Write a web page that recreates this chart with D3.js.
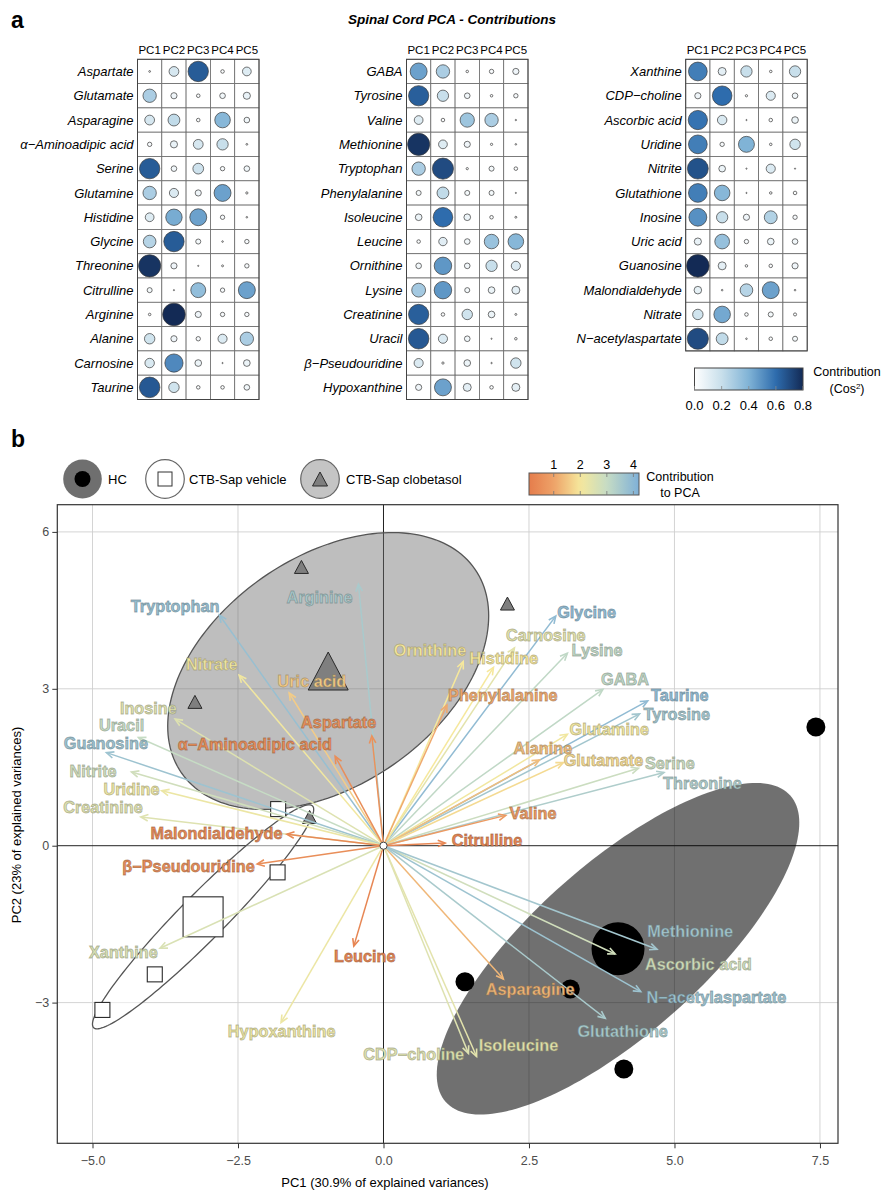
<!DOCTYPE html>
<html><head><meta charset="utf-8">
<script src="https://cdn.jsdelivr.net/npm/d3@7"></script>
<style>body{margin:0;background:#fff;} svg text{font-family:'Liberation Sans',Arial,Helvetica,sans-serif;}</style>
</head><body>
<script>
// ---------------- DATA: panel a ----------------
const pcs = ["PC1","PC2","PC3","PC4","PC5"];
const cos2Ticks = [0, 0.2, 0.4, 0.6, 0.8];
const panel1Vars = ["Aspartate","Glutamate","Asparagine","α−Aminoadipic acid","Serine","Glutamine","Histidine","Glycine","Threonine","Citrulline","Arginine","Alanine","Carnosine","Taurine"];
const panel1Cos2 = [
  [0.005,0.15,0.65,0.02,0.12],
  [0.28,0.06,0.02,0.05,0.08],
  [0.15,0.22,0.02,0.38,0.05],
  [0.03,0.08,0.15,0.20,0.005],
  [0.65,0.05,0.18,0.03,0.05],
  [0.28,0.13,0.06,0.45,0.008],
  [0.12,0.42,0.45,0.03,0.004],
  [0.25,0.65,0.04,0.004,0.03],
  [0.77,0.06,0.002,0.006,0.03],
  [0.04,0.002,0.35,0.03,0.45],
  [0.01,0.80,0.06,0.03,0.03],
  [0.17,0.06,0.03,0.13,0.28],
  [0.14,0.52,0.07,0.002,0.07],
  [0.66,0.17,0.02,0.02,0.05]
];
const panel2Vars = ["GABA","Tyrosine","Valine","Methionine","Tryptophan","Phenylalanine","Isoleucine","Leucine","Ornithine","Lysine","Creatinine","Uracil","β−Pseudouridine","Hypoxanthine"];
const panel2Cos2 = [
  [0.45,0.28,0.01,0.03,0.06],
  [0.64,0.20,0.05,0.01,0.03],
  [0.12,0.02,0.32,0.28,0.003],
  [0.77,0.12,0.06,0.008,0.004],
  [0.28,0.70,0.008,0.04,0.02],
  [0.04,0.22,0.04,0.04,0.002],
  [0.07,0.60,0.07,0.02,0.006],
  [0.02,0.11,0.05,0.33,0.38],
  [0.05,0.48,0.05,0.20,0.13],
  [0.30,0.48,0.04,0.07,0.10],
  [0.64,0.02,0.17,0.07,0.006],
  [0.66,0.13,0.05,0.002,0.01],
  [0.13,0.008,0.07,0.003,0.17],
  [0.06,0.45,0.10,0.02,0.10]
];
const panel3Vars = ["Xanthine","CDP−choline","Ascorbic acid","Uridine","Nitrite","Glutathione","Inosine","Uric acid","Guanosine","Malondialdehyde","Nitrate","N−acetylaspartate"];
const panel3Cos2 = [
  [0.55,0.10,0.20,0.01,0.20],
  [0.06,0.60,0.008,0.13,0.05],
  [0.58,0.14,0.002,0.02,0.07],
  [0.55,0.03,0.40,0.01,0.17],
  [0.68,0.07,0.002,0.13,0.001],
  [0.55,0.38,0.002,0.01,0.02],
  [0.50,0.20,0.06,0.26,0.03],
  [0.08,0.34,0.03,0.07,0.05],
  [0.80,0.10,0.01,0.02,0.06],
  [0.09,0.004,0.25,0.45,0.004],
  [0.17,0.43,0.02,0.04,0.015],
  [0.70,0.22,0.004,0.02,0.04]
];

// ---------------- DATA: panel b ----------------
const groupNames = ["HC","CTB-Sap vehicle","CTB-Sap clobetasol"];
const hcPC1 = [7.43, 1.40, 3.21, 4.13];
const hcPC2 = [2.27, -2.60, -2.74, -4.27];
const vehPC1 = [-1.81, -1.82, -3.93, -4.83];
const vehPC2 = [0.70, -0.51, -2.46, -3.14];
const clobPC1 = [-1.41, 2.13, -3.24, -1.27];
const clobPC2 = [5.33, 4.63, 2.75, 0.55];
const centroidPC1 = [4.03, -3.10, -0.95];
const centroidPC2 = [-1.97, -1.36, 3.34];
// ellipse conjugate semi-axes (data units), per group
const ellipseU = [[2.96, 2.93], [1.88, 2.12], [2.52, 1.95]];
const ellipseV = [[0.97, -1.21], [0.28, -0.30], [1.12, -1.79]];

const varNames = ["Tryptophan","Arginine","Nitrate","Uric acid","Inosine","Uracil","Guanosine","Nitrite","Uridine","Creatinine",
  "α−Aminoadipic acid","Aspartate","Malondialdehyde","β−Pseudouridine","Xanthine","Leucine","Hypoxanthine","CDP−choline","Isoleucine","Asparagine",
  "Glutathione","Ascorbic acid","Methionine","N−acetylaspartate","Glycine","Carnosine","Histidine","Ornithine","Lysine","Phenylalanine",
  "GABA","Taurine","Tyrosine","Glutamine","Alanine","Glutamate","Serine","Threonine","Valine","Citrulline"];
const varPC1 = [-2.82,-0.43,-2.48,-1.62,-3.58,-4.21,-4.76,-4.33,-3.81,-4.17,
  -0.83,-0.20,-1.66,-2.17,-3.84,-0.51,-1.76,1.46,1.60,2.06,
  3.81,3.98,4.70,4.42,2.96,2.25,1.89,1.37,3.16,1.09,
  3.77,4.54,4.40,3.16,2.68,3.09,4.38,4.82,2.10,1.06];
const varPC2 = [4.41,5.00,3.26,2.92,2.42,2.07,1.78,1.41,1.05,0.55,
  1.71,2.10,0.22,-0.35,-1.96,-1.92,-3.38,-3.97,-4.03,-2.55,
  -3.30,-2.07,-1.98,-2.79,4.39,3.78,3.41,3.52,3.68,2.69,
  2.99,2.77,2.52,2.13,1.64,1.59,1.48,1.40,0.58,0.05];
const varContrib = [3.8,3.5,2.1,1.6,2.5,3.0,3.7,2.8,2.2,2.5,
  0.5,0.6,0.4,0.5,2.6,0.3,2.2,2.5,2.4,1.3,
  3.5,2.8,3.6,3.7,3.9,2.4,2.0,2.0,3.1,1.1,
  3.1,3.9,3.6,2.1,1.4,1.8,2.9,3.4,0.8,0.3];
const labelPC1 = [-3.58,-1.10,-2.95,-1.23,-4.04,-4.50,-4.77,-4.99,-4.33,-4.82,
  -2.21,-0.77,-2.87,-3.35,-4.47,-0.32,-1.75,0.52,2.32,2.52,
  4.11,5.41,5.27,5.72,3.49,2.79,2.07,0.80,3.67,2.05,
  4.15,5.09,5.04,3.88,2.74,3.78,4.92,5.48,2.57,1.78];
const labelPC2 = [4.58,4.76,3.47,3.15,2.63,2.30,1.96,1.42,1.09,0.73,
  1.94,2.36,0.24,-0.40,-2.03,-2.12,-3.54,-3.98,-3.81,-2.74,
  -3.54,-2.26,-1.63,-2.90,4.47,4.03,3.59,3.74,3.74,2.88,
  3.19,2.88,2.51,2.23,1.86,1.64,1.57,1.20,0.62,0.11];
const xTicks = [-5, -2.5, 0, 2.5, 5, 7.5];
const yTicks = [-3, 0, 3, 6];
const contribTicks = [1, 2, 3, 4];

// ---------------- DRAW ----------------
const svg = d3.select("body").append("svg").attr("width", 885).attr("height", 1194);
svg.append("rect").attr("width",885).attr("height",1194).attr("fill","#fff");

svg.append("text").attr("x", 11).attr("y", 28).text("a").style("font-size","23px").style("font-weight","bold");
svg.append("text").attr("x", 11).attr("y", 447).text("b").style("font-size","23px").style("font-weight","bold");
svg.append("text").attr("x", 452).attr("y", 24).attr("text-anchor","middle")
  .text("Spinal Cord PCA - Contributions")
  .style("font-size","13.5px").style("font-weight","bold").style("font-style","italic")
  .style("font-family","'Liberation Sans Narrow','Liberation Sans',Arial,sans-serif");

// ---- panel a grids ----
const cosColor = d3.scaleLinear().domain(cos2Ticks).range(["#ffffff","#c8dfeb","#80b3d6","#2e6cad","#132a55"]).clamp(true);
const cell = 24.3, gridTop = 59.3;
const rScale = d3.scaleSqrt().domain([0, 0.8]).range([0, 11.3]);

function drawGrid(left, vars, vals) {
  const g = svg.append("g");
  const xb = d3.scaleBand().domain(pcs).range([left, left + cell * 5]);
  const yb = d3.scaleBand().domain(vars).range([gridTop, gridTop + cell * vars.length]);
  pcs.forEach(p => {
    g.append("text").attr("x", xb(p) + cell / 2).attr("y", gridTop - 5).attr("text-anchor","middle")
      .text(p).style("font-size","11.5px").style("font-family","'Liberation Sans Narrow','Liberation Sans',Arial,sans-serif");
  });
  vars.forEach((v, i) => {
    g.append("text").attr("x", left - 4).attr("y", yb(v) + cell / 2).attr("dy","0.35em")
      .attr("text-anchor","end").style("font-size","13px").style("font-style","italic").text(v);
    pcs.forEach((p, j) => {
      g.append("rect").attr("x", xb(p)).attr("y", yb(v)).attr("width", cell).attr("height", cell)
        .attr("fill","#fff").attr("stroke","#6a6a6a").attr("stroke-width",0.8);
    });
  });
  vars.forEach((v, i) => {
    pcs.forEach((p, j) => {
      const val = vals[i][j];
      g.append("circle").attr("cx", xb(p) + cell / 2).attr("cy", yb(v) + cell / 2)
        .attr("r", Math.max(rScale(val), 0.6)).attr("fill", cosColor(val))
        .attr("stroke","#3a3a3a").attr("stroke-width", 0.7);
    });
  });
  g.append("rect").attr("x", left).attr("y", gridTop).attr("width", cell * 5).attr("height", cell * vars.length)
    .attr("fill","none").attr("stroke","#444").attr("stroke-width",1);
}
drawGrid(137.5, panel1Vars, panel1Cos2);
drawGrid(406.5, panel2Vars, panel2Cos2);
drawGrid(685.7, panel3Vars, panel3Cos2);

// colorbar a
const defs = svg.append("defs");
const gA = defs.append("linearGradient").attr("id","gradA");
cos2Ticks.forEach(t => gA.append("stop").attr("offset", (t / 0.8 * 100) + "%").attr("stop-color", cosColor(t)));
const cbA = d3.scaleLinear().domain([0, 0.8]).range([694.5, 803]);
svg.append("rect").attr("x", cbA(0)).attr("y", 368).attr("width", cbA(0.8) - cbA(0)).attr("height", 22)
  .attr("fill","url(#gradA)").attr("stroke","#444").attr("stroke-width",1);
cos2Ticks.forEach(t => {
  svg.append("line").attr("x1", cbA(t)).attr("x2", cbA(t)).attr("y1", 386).attr("y2", 390).attr("stroke","#888").attr("stroke-width",0.8);
  svg.append("text").attr("x", cbA(t)).attr("y", 410).attr("text-anchor","middle").style("font-size","13px").text(d3.format(".1f")(t));
});
svg.append("text").attr("x", 847).attr("y", 376).attr("text-anchor","middle").style("font-size","12.5px").text("Contribution");
const cosT = svg.append("text").attr("x", 847).attr("y", 393).attr("text-anchor","middle").style("font-size","12.5px");
cosT.append("tspan").text("(Cos");
cosT.append("tspan").attr("dy",-4).style("font-size","8px").text("2");
cosT.append("tspan").attr("dy",4).text(")");

// ---- panel b ----
const x = d3.scaleLinear().domain([-5.605, 7.81]).range([57.3, 838]);
const y = d3.scaleLinear().domain([-5.69, 6.52]).range([1143.3, 504.7]);
const contribColor = d3.scaleLinear().domain([0.07, 1, 2, 3, 4.21])
  .range(["#e57d4c","#eea268","#f6e89c","#c6dcc4","#7fb0d8"]).clamp(true);

const gp = svg.append("g");
// grid
xTicks.filter(t => t !== 0).forEach(t => gp.append("line").attr("x1", x(t)).attr("x2", x(t)).attr("y1", y(6.52)).attr("y2", y(-5.69)).attr("stroke","#cfcfcf").attr("stroke-width",0.9));
yTicks.filter(t => t !== 0).forEach(t => gp.append("line").attr("y1", y(t)).attr("y2", y(t)).attr("x1", x(-5.605)).attr("x2", x(7.81)).attr("stroke","#cfcfcf").attr("stroke-width",0.9));
gp.append("line").attr("x1", x(0)).attr("x2", x(0)).attr("y1", y(6.52)).attr("y2", y(-5.69)).attr("stroke","#222").attr("stroke-width",1);
gp.append("line").attr("y1", y(0)).attr("y2", y(0)).attr("x1", x(-5.605)).attr("x2", x(7.81)).attr("stroke","#222").attr("stroke-width",1);

// ellipses
const ellFill = ["rgba(0,0,0,0.56)","rgba(255,255,255,0.5)","rgba(110,110,110,0.45)"];
const ellStroke = ["none","#555","#555"];
const line = d3.line().x(d => x(d[0])).y(d => y(d[1])).curve(d3.curveLinearClosed);
groupNames.forEach((gname, k) => {
  const pts = d3.range(0, 2 * Math.PI, Math.PI / 90).map(t => [
    centroidPC1[k] + ellipseU[k][0] * Math.cos(t) + ellipseV[k][0] * Math.sin(t),
    centroidPC2[k] + ellipseU[k][1] * Math.cos(t) + ellipseV[k][1] * Math.sin(t)
  ]);
  gp.append("path").attr("d", line(pts)).attr("fill", ellFill[k]).attr("stroke", ellStroke[k]).attr("stroke-width", 1.3);
});

// points
hcPC1.forEach((v, i) => gp.append("circle").attr("cx", x(v)).attr("cy", y(hcPC2[i])).attr("r", 9.5).attr("fill","#000"));
gp.append("circle").attr("cx", x(centroidPC1[0])).attr("cy", y(centroidPC2[0])).attr("r", 26.5).attr("fill","#000");
function sq(cx, cy, s) {
  gp.append("rect").attr("x", cx - s / 2).attr("y", cy - s / 2).attr("width", s).attr("height", s)
    .attr("fill","#fff").attr("stroke","#2a2a2a").attr("stroke-width",1.1);
}
vehPC1.forEach((v, i) => sq(x(v), y(vehPC2[i]), 15));
sq(x(centroidPC1[1]), y(centroidPC2[1]), 40);
function tri(sel, cx, cy, w, h, fill) {
  sel.append("path").attr("d", `M${cx},${cy - h / 2}L${cx + w / 2},${cy + h / 2}L${cx - w / 2},${cy + h / 2}Z`)
    .attr("fill", fill).attr("stroke","#2a2a2a").attr("stroke-width",1);
}
clobPC1.forEach((v, i) => tri(gp, x(v), y(clobPC2[i]), 14, 13, "#7f7f7f"));
tri(gp, x(centroidPC1[2]), y(centroidPC2[2]), 40, 38, "#7f7f7f");

// arrows
const ox = x(0), oy = y(0);
varNames.forEach((n, i) => {
  const x1 = x(varPC1[i]), y1 = y(varPC2[i]);
  const col = contribColor(varContrib[i]);
  gp.append("line").attr("x1", ox).attr("y1", oy).attr("x2", x1).attr("y2", y1).attr("stroke", col).attr("stroke-width", 1.5);
  const ang = Math.atan2(y1 - oy, x1 - ox), L = 8, a = 0.42;
  gp.append("path").attr("d", `M${x1 - L * Math.cos(ang - a)},${y1 - L * Math.sin(ang - a)}L${x1},${y1}L${x1 - L * Math.cos(ang + a)},${y1 - L * Math.sin(ang + a)}`)
    .attr("fill","none").attr("stroke", col).attr("stroke-width", 1.6);
});
gp.append("circle").attr("cx", ox).attr("cy", oy).attr("r", 3.6).attr("fill","#fff").attr("stroke","#444").attr("stroke-width",1);

// labels
varNames.forEach((n, i) => {
  const col = contribColor(varContrib[i]);
  gp.append("text").attr("x", x(labelPC1[i])).attr("y", y(labelPC2[i])).attr("dy","0.36em")
    .attr("text-anchor","middle").style("font-size","16.3px").style("font-weight","bold")
    .attr("fill", col).attr("stroke", d3.color(col).darker(1.3).copy({opacity:0.6})).attr("stroke-width", 0.8)
    .text(n);
});

// frame
gp.append("rect").attr("x", x(-5.605)).attr("y", y(6.52)).attr("width", x(7.81) - x(-5.605)).attr("height", y(-5.69) - y(6.52))
  .attr("fill","none").attr("stroke","#333").attr("stroke-width",1.2);

// axes
const xAxis = d3.axisBottom(x).tickValues(xTicks).tickFormat(d3.format(".1f")).tickSize(5).tickSizeOuter(0);
const gx = svg.append("g").attr("transform", `translate(0,${y(-5.69)})`).call(xAxis);
gx.select(".domain").remove();
gx.selectAll("text").style("font-size","12.5px").attr("fill","#4d4d4d").attr("dy","1.1em");
gx.selectAll("line").attr("stroke","#333");
const yAxis = d3.axisLeft(y).tickValues(yTicks).tickFormat(d3.format("d")).tickSize(5).tickSizeOuter(0);
const gy = svg.append("g").attr("transform", `translate(${x(-5.605)},0)`).call(yAxis);
gy.select(".domain").remove();
gy.selectAll("text").style("font-size","12.5px").attr("fill","#4d4d4d");
gy.selectAll("line").attr("stroke","#333");
svg.append("text").attr("x", 385).attr("y", 1187).attr("text-anchor","middle").style("font-size","13px").text("PC1 (30.9% of explained variances)");
svg.append("text").attr("transform","translate(21,825) rotate(-90)").attr("text-anchor","middle").style("font-size","13px").text("PC2 (23% of explained variances)");

// legend
const lg = svg.append("g");
const legY = 479;
lg.append("ellipse").attr("cx", 82.5).attr("cy", legY).attr("rx", 19.3).attr("ry", 19.5).attr("fill","#6f6f6f");
lg.append("circle").attr("cx", 82.5).attr("cy", legY).attr("r", 8).attr("fill","#000");
lg.append("text").attr("x", 108).attr("y", legY).attr("dy","0.35em").style("font-size","13px").text(groupNames[0]);
lg.append("circle").attr("cx", 165).attr("cy", legY).attr("r", 19.3).attr("fill","#fff").attr("stroke","#666").attr("stroke-width",1.2);
lg.append("rect").attr("x", 158).attr("y", legY - 7).attr("width", 14).attr("height", 14).attr("fill","#fff").attr("stroke","#333");
lg.append("text").attr("x", 189).attr("y", legY).attr("dy","0.35em").style("font-size","13px").text(groupNames[1]);
lg.append("circle").attr("cx", 320).attr("cy", legY).attr("r", 19.3).attr("fill","#c4c4c4").attr("stroke","#666").attr("stroke-width",1.2);
tri(lg, 320, legY, 15, 14, "#7f7f7f");
lg.append("text").attr("x", 346).attr("y", legY).attr("dy","0.35em").style("font-size","13px").text(groupNames[2]);

// contribution colorbar
const cbB = d3.scaleLinear().domain([0.07, 4.21]).range([529, 639]);
const gB = defs.append("linearGradient").attr("id","gradB");
d3.range(0, 1.0001, 0.05).forEach(f => {
  const v = 0.07 + f * (4.21 - 0.07);
  gB.append("stop").attr("offset", (f * 100) + "%").attr("stop-color", contribColor(v));
});
lg.append("rect").attr("x", cbB(0.07)).attr("y", 473).attr("width", cbB(4.21) - cbB(0.07)).attr("height", 22)
  .attr("fill","url(#gradB)").attr("stroke","#555").attr("stroke-width",1);
contribTicks.forEach(t => {
  lg.append("line").attr("x1", cbB(t)).attr("x2", cbB(t)).attr("y1", 473).attr("y2", 477).attr("stroke","#777").attr("stroke-width",0.8);
  lg.append("line").attr("x1", cbB(t)).attr("x2", cbB(t)).attr("y1", 491).attr("y2", 495).attr("stroke","#777").attr("stroke-width",0.8);
  lg.append("text").attr("x", cbB(t)).attr("y", 469).attr("text-anchor","middle").style("font-size","12.5px").text(t);
});
lg.append("text").attr("x", 680).attr("y", 481).attr("text-anchor","middle").style("font-size","12.5px").text("Contribution");
lg.append("text").attr("x", 680).attr("y", 497).attr("text-anchor","middle").style("font-size","12.5px").text("to PCA");
</script>
</body></html>
